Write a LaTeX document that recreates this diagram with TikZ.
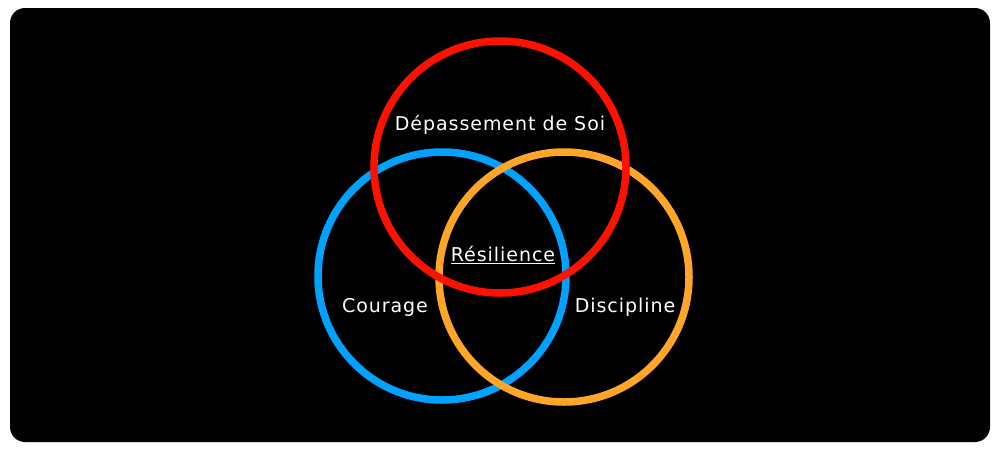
\documentclass[tikz,border=0pt]{standalone}
\usepackage{fontspec}
\setmainfont[LetterSpace=5]{DejaVu Sans}
\usepackage{tikz}
\usetikzlibrary{positioning}
\definecolor{rotkreis}{RGB}{255,17,0}
\definecolor{blaukreis}{RGB}{0,162,255}
\definecolor{orangekreis}{RGB}{255,165,40}

\begin{document}
\begin{tikzpicture}[%
x={(1pt,0pt)},
y={(0pt,-1pt)},
kreis/.style={line width=7.5pt},
schrift/.style={text=white,font=\fontsize{19}{22}\selectfont,inner sep=0pt},
]

\useasboundingbox[fill=white] (0,0) rectangle (1000,450);
\fill[black,rounded corners=15pt] (10,8) rectangle (990,442);

\coordinate (B) at (442,276);
\coordinate (O) at (564,277);
\coordinate (R) at (500,167);

%Kreise
\draw[kreis,blaukreis] (B) circle[radius=124pt];
\draw[kreis,orangekreis] (O) circle[radius=125pt];
\draw[kreis,rotkreis] (R) circle[radius=126pt];

%Beschriftung
\node[schrift](soi) at (500,125){Dépassement de Soi};
\node[schrift](res) at (503,255){\underline{Résilience}};
\node[schrift](cou) at (385,307){Courage};
\node[schrift](dis) at (625,307){Discipline};

\end{tikzpicture}
\end{document}
